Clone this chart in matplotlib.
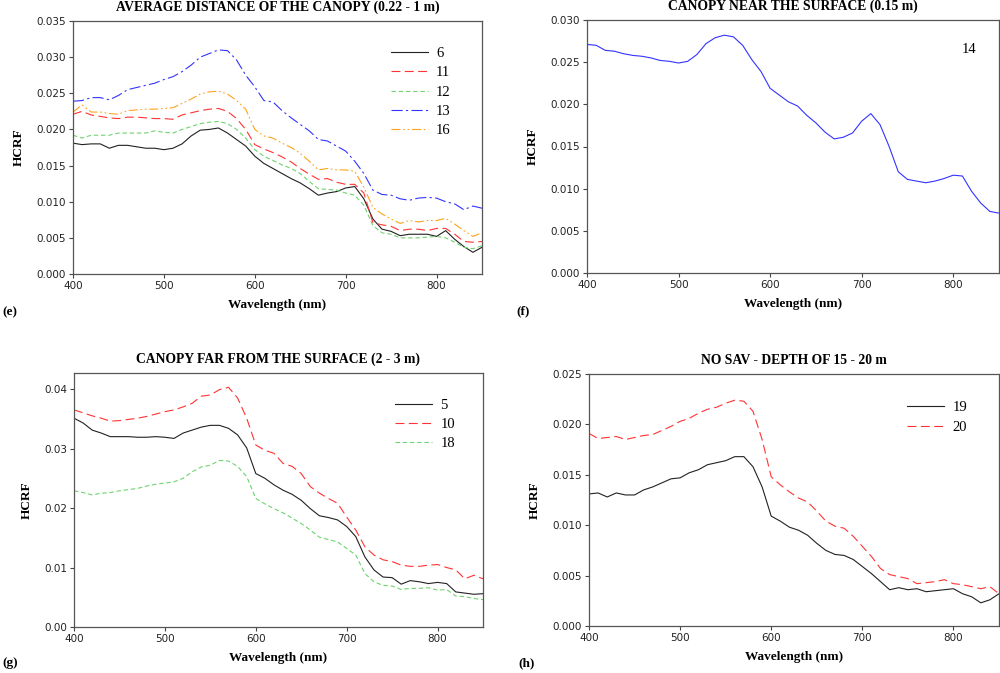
import matplotlib
matplotlib.use("Agg")
import matplotlib.pyplot as plt
import numpy as np

wl = list(range(400, 851, 10))

# Panel (e) AVERAGE DISTANCE OF THE CANOPY
e_6 = [0.0181,0.0179,0.0180,0.0180,0.0174,0.0178,0.0178,0.0176,0.0174,0.0174,
       0.0172,0.0174,0.0180,0.0191,0.0199,0.0200,0.0202,0.0195,0.0186,0.0177,
       0.0163,0.0153,0.0146,0.0139,0.0132,0.0126,0.0118,0.0109,0.0112,0.0114,
       0.0119,0.0121,0.0104,0.0076,0.0062,0.0059,0.0053,0.0055,0.0055,0.0055,
       0.0052,0.0060,0.0048,0.0038,0.0030,0.0037]
e_11 = [0.0221,0.0225,0.0220,0.0218,0.0216,0.0215,0.0217,0.0217,0.0216,0.0215,
        0.0215,0.0214,0.0220,0.0223,0.0226,0.0228,0.0229,0.0225,0.0215,0.0200,
        0.0179,0.0173,0.0168,0.0162,0.0155,0.0146,0.0138,0.0131,0.0132,0.0127,
        0.0124,0.0124,0.0112,0.0071,0.0068,0.0066,0.0060,0.0062,0.0062,0.0060,
        0.0063,0.0063,0.0055,0.0045,0.0044,0.0045]
e_12 = [0.0192,0.0188,0.0192,0.0192,0.0192,0.0195,0.0195,0.0195,0.0195,0.0198,
        0.0196,0.0195,0.0200,0.0204,0.0208,0.0210,0.0211,0.0208,0.0200,0.0188,
        0.0172,0.0163,0.0157,0.0151,0.0146,0.0139,0.0128,0.0118,0.0117,0.0116,
        0.0112,0.0109,0.0095,0.0067,0.0057,0.0055,0.0050,0.0050,0.0050,0.0051,
        0.0052,0.0050,0.0044,0.0037,0.0035,0.0039]
e_13 = [0.0239,0.0240,0.0244,0.0244,0.0241,0.0247,0.0255,0.0258,0.0261,0.0264,
        0.0269,0.0273,0.0280,0.0289,0.0300,0.0305,0.0310,0.0309,0.0296,0.0275,
        0.0259,0.0240,0.0238,0.0226,0.0216,0.0207,0.0198,0.0186,0.0184,0.0177,
        0.0170,0.0156,0.0139,0.0116,0.0110,0.0109,0.0104,0.0102,0.0105,0.0106,
        0.0105,0.0100,0.0097,0.0089,0.0094,0.0091]
e_16 = [0.0224,0.0234,0.0224,0.0224,0.0222,0.0221,0.0226,0.0227,0.0228,0.0228,
        0.0229,0.0230,0.0236,0.0242,0.0249,0.0252,0.0253,0.0249,0.0240,0.0228,
        0.0200,0.0191,0.0188,0.0181,0.0175,0.0167,0.0156,0.0144,0.0146,0.0144,
        0.0144,0.0142,0.0120,0.0092,0.0083,0.0076,0.0070,0.0074,0.0072,0.0074,
        0.0074,0.0077,0.0069,0.0060,0.0052,0.0057]

# Panel (f) CANOPY NEAR THE SURFACE
f_14 = [0.0271,0.0270,0.0264,0.0263,0.0260,0.0258,0.0257,0.0255,0.0252,0.0251,
        0.0249,0.0251,0.0259,0.0272,0.0279,0.0282,0.0280,0.0270,0.0253,0.0239,
        0.0219,0.0211,0.0203,0.0198,0.0187,0.0178,0.0167,0.0159,0.0161,0.0166,
        0.0180,0.0189,0.0176,0.0150,0.0120,0.0111,0.0109,0.0107,0.0109,0.0112,
        0.0116,0.0115,0.0097,0.0083,0.0073,0.0071]

# Panel (g) CANOPY FAR FROM THE SURFACE
g_5 = [0.0351,0.0343,0.0331,0.0326,0.0320,0.0320,0.0320,0.0319,0.0319,0.0320,
       0.0319,0.0317,0.0326,0.0331,0.0336,0.0339,0.0339,0.0334,0.0323,0.0301,
       0.0258,0.0250,0.0239,0.0230,0.0223,0.0213,0.0199,0.0187,0.0184,0.0180,
       0.0169,0.0152,0.0118,0.0096,0.0084,0.0083,0.0072,0.0078,0.0076,0.0073,
       0.0075,0.0073,0.0059,0.0057,0.0055,0.0056]
g_10 = [0.0365,0.0360,0.0355,0.0351,0.0346,0.0347,0.0349,0.0351,0.0354,0.0358,
        0.0362,0.0365,0.0370,0.0376,0.0388,0.0390,0.0399,0.0403,0.0385,0.0351,
        0.0306,0.0297,0.0292,0.0275,0.0270,0.0258,0.0236,0.0225,0.0216,0.0208,
        0.0185,0.0163,0.0135,0.0121,0.0113,0.0110,0.0104,0.0102,0.0102,0.0104,
        0.0105,0.0100,0.0096,0.0081,0.0087,0.0081]
g_18 = [0.0229,0.0226,0.0222,0.0225,0.0226,0.0229,0.0231,0.0233,0.0237,0.0240,
        0.0242,0.0244,0.0250,0.0261,0.0269,0.0272,0.0280,0.0279,0.0270,0.0253,
        0.0216,0.0207,0.0199,0.0192,0.0183,0.0174,0.0163,0.0151,0.0147,0.0143,
        0.0132,0.0121,0.0090,0.0076,0.0070,0.0069,0.0063,0.0065,0.0065,0.0066,
        0.0062,0.0063,0.0052,0.0051,0.0048,0.0046]

# Panel (h) NO SAV
h_19 = [0.0131,0.0132,0.0128,0.0132,0.0130,0.0130,0.0135,0.0138,0.0142,0.0146,
        0.0147,0.0152,0.0155,0.0160,0.0162,0.0164,0.0168,0.0168,0.0158,0.0138,
        0.0109,0.0104,0.0098,0.0095,0.0090,0.0082,0.0075,0.0071,0.0070,0.0066,
        0.0059,0.0052,0.0044,0.0036,0.0038,0.0036,0.0037,0.0034,0.0035,0.0036,
        0.0037,0.0032,0.0029,0.0023,0.0026,0.0032]
h_20 = [0.0191,0.0186,0.0187,0.0188,0.0185,0.0187,0.0189,0.0190,0.0194,0.0198,
        0.0203,0.0206,0.0211,0.0215,0.0217,0.0221,0.0224,0.0223,0.0213,0.0185,
        0.0148,0.0140,0.0133,0.0127,0.0123,0.0114,0.0104,0.0099,0.0097,0.0089,
        0.0079,0.0069,0.0057,0.0051,0.0049,0.0047,0.0042,0.0043,0.0044,0.0046,
        0.0042,0.0041,0.0039,0.0037,0.0039,0.0032]

titles = ["AVERAGE DISTANCE OF THE CANOPY (0.22 - 1 m)",
          "CANOPY NEAR THE SURFACE (0.15 m)",
          "CANOPY FAR FROM THE SURFACE (2 - 3 m)",
          "NO SAV - DEPTH OF 15 - 20 m"]
panel_tags = ["(e)", "(f)", "(g)", "(h)"]

BLACK = "#222222"
RED = "#ff3333"
GREEN = "#6fd36f"
BLUE = "#3333ff"
ORANGE = "#ffa31a"
ls_solid = "-"
ls_red = (0, (8, 4))
ls_green = (0, (4, 2.5))
ls_blue = (0, (10, 3, 2, 3))
ls_orange = (0, (8, 2.5, 1.5, 2.5, 1.5, 2.5))

serif = "Liberation Serif"
W, H = 1000, 673
fig = plt.figure(figsize=(10, 6.73), dpi=100)

def ax_at(l, t, r, b):
    return fig.add_axes([l / W, 1 - b / H, (r - l) / W, (b - t) / H])

axes = [ax_at(73, 21, 482, 274), ax_at(587, 20, 999, 273),
        ax_at(74, 373, 483, 627), ax_at(589, 374, 999, 626)]

ylims = [(0, 0.035), (0, 0.030), (0, 0.0427), (0, 0.025)]
yticks = [np.arange(0, 0.0351, 0.005), np.arange(0, 0.0301, 0.005),
          np.arange(0, 0.0401, 0.01), np.arange(0, 0.0251, 0.005)]
yfmt = ["%.3f", "%.3f", "%.2f", "%.3f"]

for i, ax in enumerate(axes):
    ax.set_xlim(400, 850)
    ax.set_ylim(*ylims[i])
    ax.set_xticks([400, 500, 600, 700, 800])
    ax.set_yticks(yticks[i])
    ax.set_yticklabels([yfmt[i] % v for v in yticks[i]])
    ax.tick_params(axis="both", labelsize=7.5, length=3, width=0.8,
                   color="#444444", labelcolor="#222222", pad=2,
                   direction="out", top=False, right=False)
    for s in ax.spines.values():
        s.set_color("#555555")
        s.set_linewidth(0.9)
    ax.set_title(titles[i], fontfamily=serif, fontweight="bold", fontsize=9.8,
                 pad=7)
    ax.set_xlabel("Wavelength (nm)", fontfamily=serif, fontweight="bold",
                  fontsize=9.5, labelpad=6)
    ax.set_ylabel("HCRF", fontfamily=serif, fontweight="bold", fontsize=9.5,
                  labelpad=8.5)

lw = 0.8
a = axes[0]
a.plot(wl, e_6, color=BLACK, ls=ls_solid, lw=lw, label="6")
a.plot(wl, e_11, color=RED, ls=ls_red, lw=lw, label="11")
a.plot(wl, e_12, color=GREEN, ls=ls_green, lw=lw, label="12")
a.plot(wl, e_13, color=BLUE, ls=ls_blue, lw=lw, label="13")
a.plot(wl, e_16, color=ORANGE, ls=ls_orange, lw=lw, label="16")

a = axes[1]
a.plot(wl, f_14, color=BLUE, ls=ls_solid, lw=lw)
a.text(0.928, 0.885, "14", transform=a.transAxes, fontfamily=serif,
       fontsize=10.5, ha="center", va="center")

a = axes[2]
a.plot(wl, g_5, color=BLACK, ls=ls_solid, lw=lw, label="5")
a.plot(wl, g_10, color=RED, ls=ls_red, lw=lw, label="10")
a.plot(wl, g_18, color=GREEN, ls=ls_green, lw=lw, label="18")

a = axes[3]
a.plot(wl, h_19, color=BLACK, ls=ls_solid, lw=lw, label="19")
a.plot(wl, h_20, color=RED, ls=ls_red, lw=lw, label="20")

leg_pos = {0: (0.777, 0.898), 2: (0.785, 0.90), 3: (0.776, 0.892)}
for i, pos in leg_pos.items():
    axes[i].legend(loc="upper left", bbox_to_anchor=pos, frameon=False,
                   prop={"family": serif, "size": 10.5}, handlelength=2.55,
                   handletextpad=0.55, labelspacing=0.42, borderpad=0,
                   borderaxespad=0)

tag_pos = [(2, 312), (516, 311), (2, 663), (518, 663)]
for tag, (x, y) in zip(panel_tags, tag_pos):
    fig.text(x / W, 1 - y / H, tag, fontfamily=serif, fontweight="bold",
             fontsize=9.5, ha="left", va="center")

fig.savefig("out.png", dpi=100)
